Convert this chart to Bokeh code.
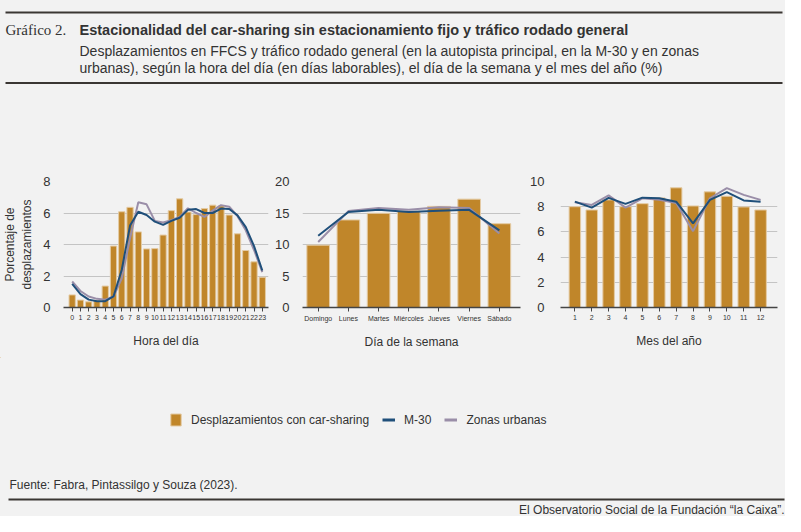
from bokeh.plotting import figure
from bokeh.layouts import column, row
from bokeh.models import (ColumnDataSource, Range1d, FixedTicker, Legend, LegendItem)
from bokeh.core.properties import value
from bokeh.embed import file_html
from bokeh.resources import INLINE

# ---------------- data ----------------
hours = list(range(24))
hour_labels = [str(h) for h in hours]
hour_ffcs = [0.8, 0.47, 0.36, 0.45, 1.36, 3.9, 6.08, 6.36, 4.8, 3.72, 3.74, 4.6,
             6.15, 6.9, 6.06, 5.9, 6.28, 6.5, 6.45, 5.87, 4.68, 3.62, 2.9, 1.92]
hour_m30 = [1.5, 0.85, 0.5, 0.4, 0.4, 0.7, 2.4, 5.2, 6.08, 5.87, 5.45, 5.25,
            5.5, 5.7, 6.2, 6.25, 6.0, 6.0, 6.28, 6.25, 5.85, 5.1, 3.9, 2.35]
hour_urb = [1.65, 1.05, 0.7, 0.55, 0.5, 0.7, 1.85, 4.4, 6.68, 6.55, 5.5, 5.4,
            5.55, 5.75, 6.3, 6.0, 5.75, 6.15, 6.5, 6.4, 5.8, 4.9, 3.65, 2.25]

days = ["Domingo", "Lunes", "Martes", "Miércoles", "Jueves", "Viernes", "Sábado"]
day_ffcs = [9.9, 13.9, 14.95, 15.26, 16.05, 17.2, 13.3]
day_m30 = [11.4, 15.15, 15.5, 15.15, 15.35, 15.5, 12.25]
day_urb = [10.4, 15.3, 15.8, 15.5, 15.9, 15.8, 11.75]

months = list(range(1, 13))
month_labels = [str(m) for m in months]
month_ffcs = [8.0, 7.74, 8.54, 8.0, 8.24, 8.7, 9.5, 8.06, 9.18, 8.83, 7.98, 7.74]
month_m30 = [8.4, 7.93, 8.7, 8.22, 8.72, 8.67, 8.4, 6.68, 8.54, 9.15, 8.5, 8.4]
month_urb = [8.35, 8.14, 8.9, 7.93, 8.67, 8.56, 8.3, 6.06, 8.67, 9.47, 8.94, 8.54]

legend_labels = ["Desplazamientos con car-sharing", "M-30", "Zonas urbanas"]

# ---------------- styles ----------------
BG = "#f2f2f2"
BAR = "#c0862a"
BAR_LINE = "#e4cba4"
M30 = "#1f4f7a"
URB = "#9a8ea8"
TXT = "#333333"
GRID = "#c4c4c4"
FONT = "Liberation Sans"

TOP = 175
ROW_H = 190
FRAME_TOP = 14
FRAME_BOTTOM = 50


def chart(width, left, right, xr, yr, yticks, xticks, xlabels, xs, ffcs, m30, urb,
          bar_w, xtitle, ytitle=None, ystandoff=7, xlabel_size="7px", xtitle_standoff=14):
    p = figure(width=width, height=ROW_H, output_backend="svg", toolbar_location=None,
               x_range=Range1d(*xr), y_range=Range1d(*yr),
               min_border_left=left, min_border_right=right,
               min_border_top=FRAME_TOP, min_border_bottom=FRAME_BOTTOM)
    p.background_fill_color = BG
    p.border_fill_color = BG
    p.outline_line_color = None
    p.xgrid.grid_line_color = None
    p.ygrid.grid_line_color = GRID
    p.ygrid.grid_line_width = 1
    p.yaxis.ticker = FixedTicker(ticks=yticks)
    p.xaxis.ticker = FixedTicker(ticks=xticks)
    p.xaxis.major_label_overrides = {t: l for t, l in zip(xticks, xlabels)}
    p.yaxis.axis_line_color = None
    p.yaxis.major_tick_line_color = None
    p.yaxis.minor_tick_line_color = None
    p.yaxis.major_label_text_font = FONT
    p.yaxis.major_label_text_font_size = "13px"
    p.yaxis.major_label_text_color = TXT
    p.yaxis.major_label_standoff = ystandoff
    p.xaxis.axis_line_color = "#444444"
    p.xaxis.axis_line_width = 1.6
    p.xaxis.major_tick_line_color = "#444444"
    p.xaxis.major_tick_line_width = 1
    p.xaxis.major_tick_out = 4
    p.xaxis.major_tick_in = 0
    p.xaxis.minor_tick_line_color = None
    p.xaxis.major_label_text_font = FONT
    p.xaxis.major_label_text_font_size = xlabel_size
    p.xaxis.major_label_text_color = TXT
    p.xaxis.major_label_standoff = 3
    p.xaxis.axis_label = xtitle
    p.xaxis.axis_label_text_font = FONT
    p.xaxis.axis_label_text_font_size = "12px"
    p.xaxis.axis_label_text_font_style = "normal"
    p.xaxis.axis_label_text_color = TXT
    p.xaxis.axis_label_standoff = xtitle_standoff
    if ytitle:
        p.yaxis.axis_label = ytitle
        p.yaxis.axis_label_text_font = FONT
        p.yaxis.axis_label_text_font_size = "12px"
        p.yaxis.axis_label_text_font_style = "normal"
        p.yaxis.axis_label_text_color = TXT
        p.yaxis.axis_label_standoff = 6
    src = ColumnDataSource(dict(x=xs, ffcs=ffcs, m30=m30, urb=urb))
    p.vbar(x="x", top="ffcs", width=bar_w, bottom=0, source=src,
           fill_color=BAR, line_color=BAR_LINE, line_width=1)
    p.line(x="x", y="urb", source=src, line_color=URB, line_width=2)
    p.line(x="x", y="m30", source=src, line_color=M30, line_width=2)
    return p


p1 = chart(272, 49, 4, (-1.05, 23.75), (0, 8), [0, 2, 4, 6, 8], hours, hour_labels,
           hours, hour_ffcs, hour_m30, hour_urb, 0.76, "Hora del día",
           ytitle="Porcentaje de\ndesplazamientos", xtitle_standoff=11)
day_x = list(range(len(days)))
p2 = chart(255, 23, 7, (-0.52, 6.70), (0, 20), [0, 5, 10, 15, 20], day_x, days,
           day_x, day_ffcs, day_m30, day_urb, 0.75, "Día de la semana",
           xlabel_size="7px", xtitle_standoff=10)
p3 = chart(258, 22, 8, (0.15, 13.0), (0, 10), [0, 2, 4, 6, 8, 10], months, month_labels,
           months, month_ffcs, month_m30, month_urb, 0.68, "Mes del año", ystandoff=10,
           xtitle_standoff=11)

# ---------------- header ----------------
W = 785
head = figure(width=W, height=TOP - 8, output_backend="svg", toolbar_location=None,
              x_range=Range1d(8, 8 + W), y_range=Range1d(TOP, 8),
              min_border=0)
head.axis.visible = False
head.grid.visible = False
head.outline_line_color = None
head.background_fill_color = BG
head.border_fill_color = BG
head.segment(x0=[13, 13], y0=[20, 90.5], x1=[790, 790], y1=[20, 90.5],
             line_color="#3a3633", line_width=2)
head.text(x=[13], y=[37], text=["Gráfico 2."], text_font=value("Liberation Serif"),
          text_font_size="15px", text_color=TXT, text_baseline="middle")
head.text(x=[87], y=[37],
          text=["Estacionalidad del car-sharing sin estacionamiento fijo y tráfico rodado general"],
          text_font=value(FONT), text_font_style="bold", text_font_size="14.5px",
          text_color=TXT, text_baseline="middle")
head.text(x=[87, 87], y=[58, 75],
          text=["Desplazamientos en FFCS y tráfico rodado general (en la autopista principal, en la M-30 y en zonas",
                "urbanas), según la hora del día (en días laborables), el día de la semana y el mes del año (%)"],
          text_font=value(FONT), text_font_size="14px", text_color=TXT,
          text_baseline="middle")

# ---------------- footer ----------------
FT = TOP + ROW_H
FH = 532 - 8 - FT
foot = figure(width=W, height=FH, output_backend="svg", toolbar_location=None,
              x_range=Range1d(8, 8 + W), y_range=Range1d(FT + FH, FT),
              min_border=0)
foot.axis.visible = False
foot.grid.visible = False
foot.outline_line_color = None
foot.background_fill_color = BG
foot.border_fill_color = BG
# legend proxies placed outside the visible range
proxy = ColumnDataSource(dict(x=[-500, -499], y=[-500, -499]))
r_bar = foot.vbar(x="x", top="y", width=1, source=proxy, fill_color=BAR, line_color=BAR_LINE)
r_m30 = foot.line(x="x", y="y", source=proxy, line_color=M30, line_width=3)
r_urb = foot.line(x="x", y="y", source=proxy, line_color=URB, line_width=3)
legend = Legend(items=[LegendItem(label=legend_labels[0], renderers=[r_bar]),
                       LegendItem(label=legend_labels[1], renderers=[r_m30]),
                       LegendItem(label=legend_labels[2], renderers=[r_urb])],
                orientation="horizontal", location=(169, FH - 62 - 8),
                glyph_width=13, glyph_height=15, label_standoff=9, spacing=13,
                padding=0, margin=0, border_line_color=None,
                background_fill_alpha=0, label_text_font=FONT,
                label_text_font_size="12px", label_text_color=TXT)
foot.add_layout(legend, "center")
foot.text(x=[17], y=[492.5], text=["Fuente: Fabra, Pintassilgo y Souza (2023)."],
          text_font=value(FONT), text_font_size="12px", text_color=TXT,
          text_baseline="middle")
foot.segment(x0=[16], y0=[507], x1=[792], y1=[507], line_color="#3a3633", line_width=2)
foot.text(x=[792], y=[517.5], text=["El Observatorio Social de la Fundación “la Caixa”."],
          text_font=value(FONT), text_font_size="12px", text_color=TXT,
          text_baseline="middle", text_align="right")

p = column(head, row(p1, p2, p3, spacing=0), foot, spacing=0)
p.styles = {"background-color": BG}

open("out.html", "w").write(file_html(p, INLINE))
